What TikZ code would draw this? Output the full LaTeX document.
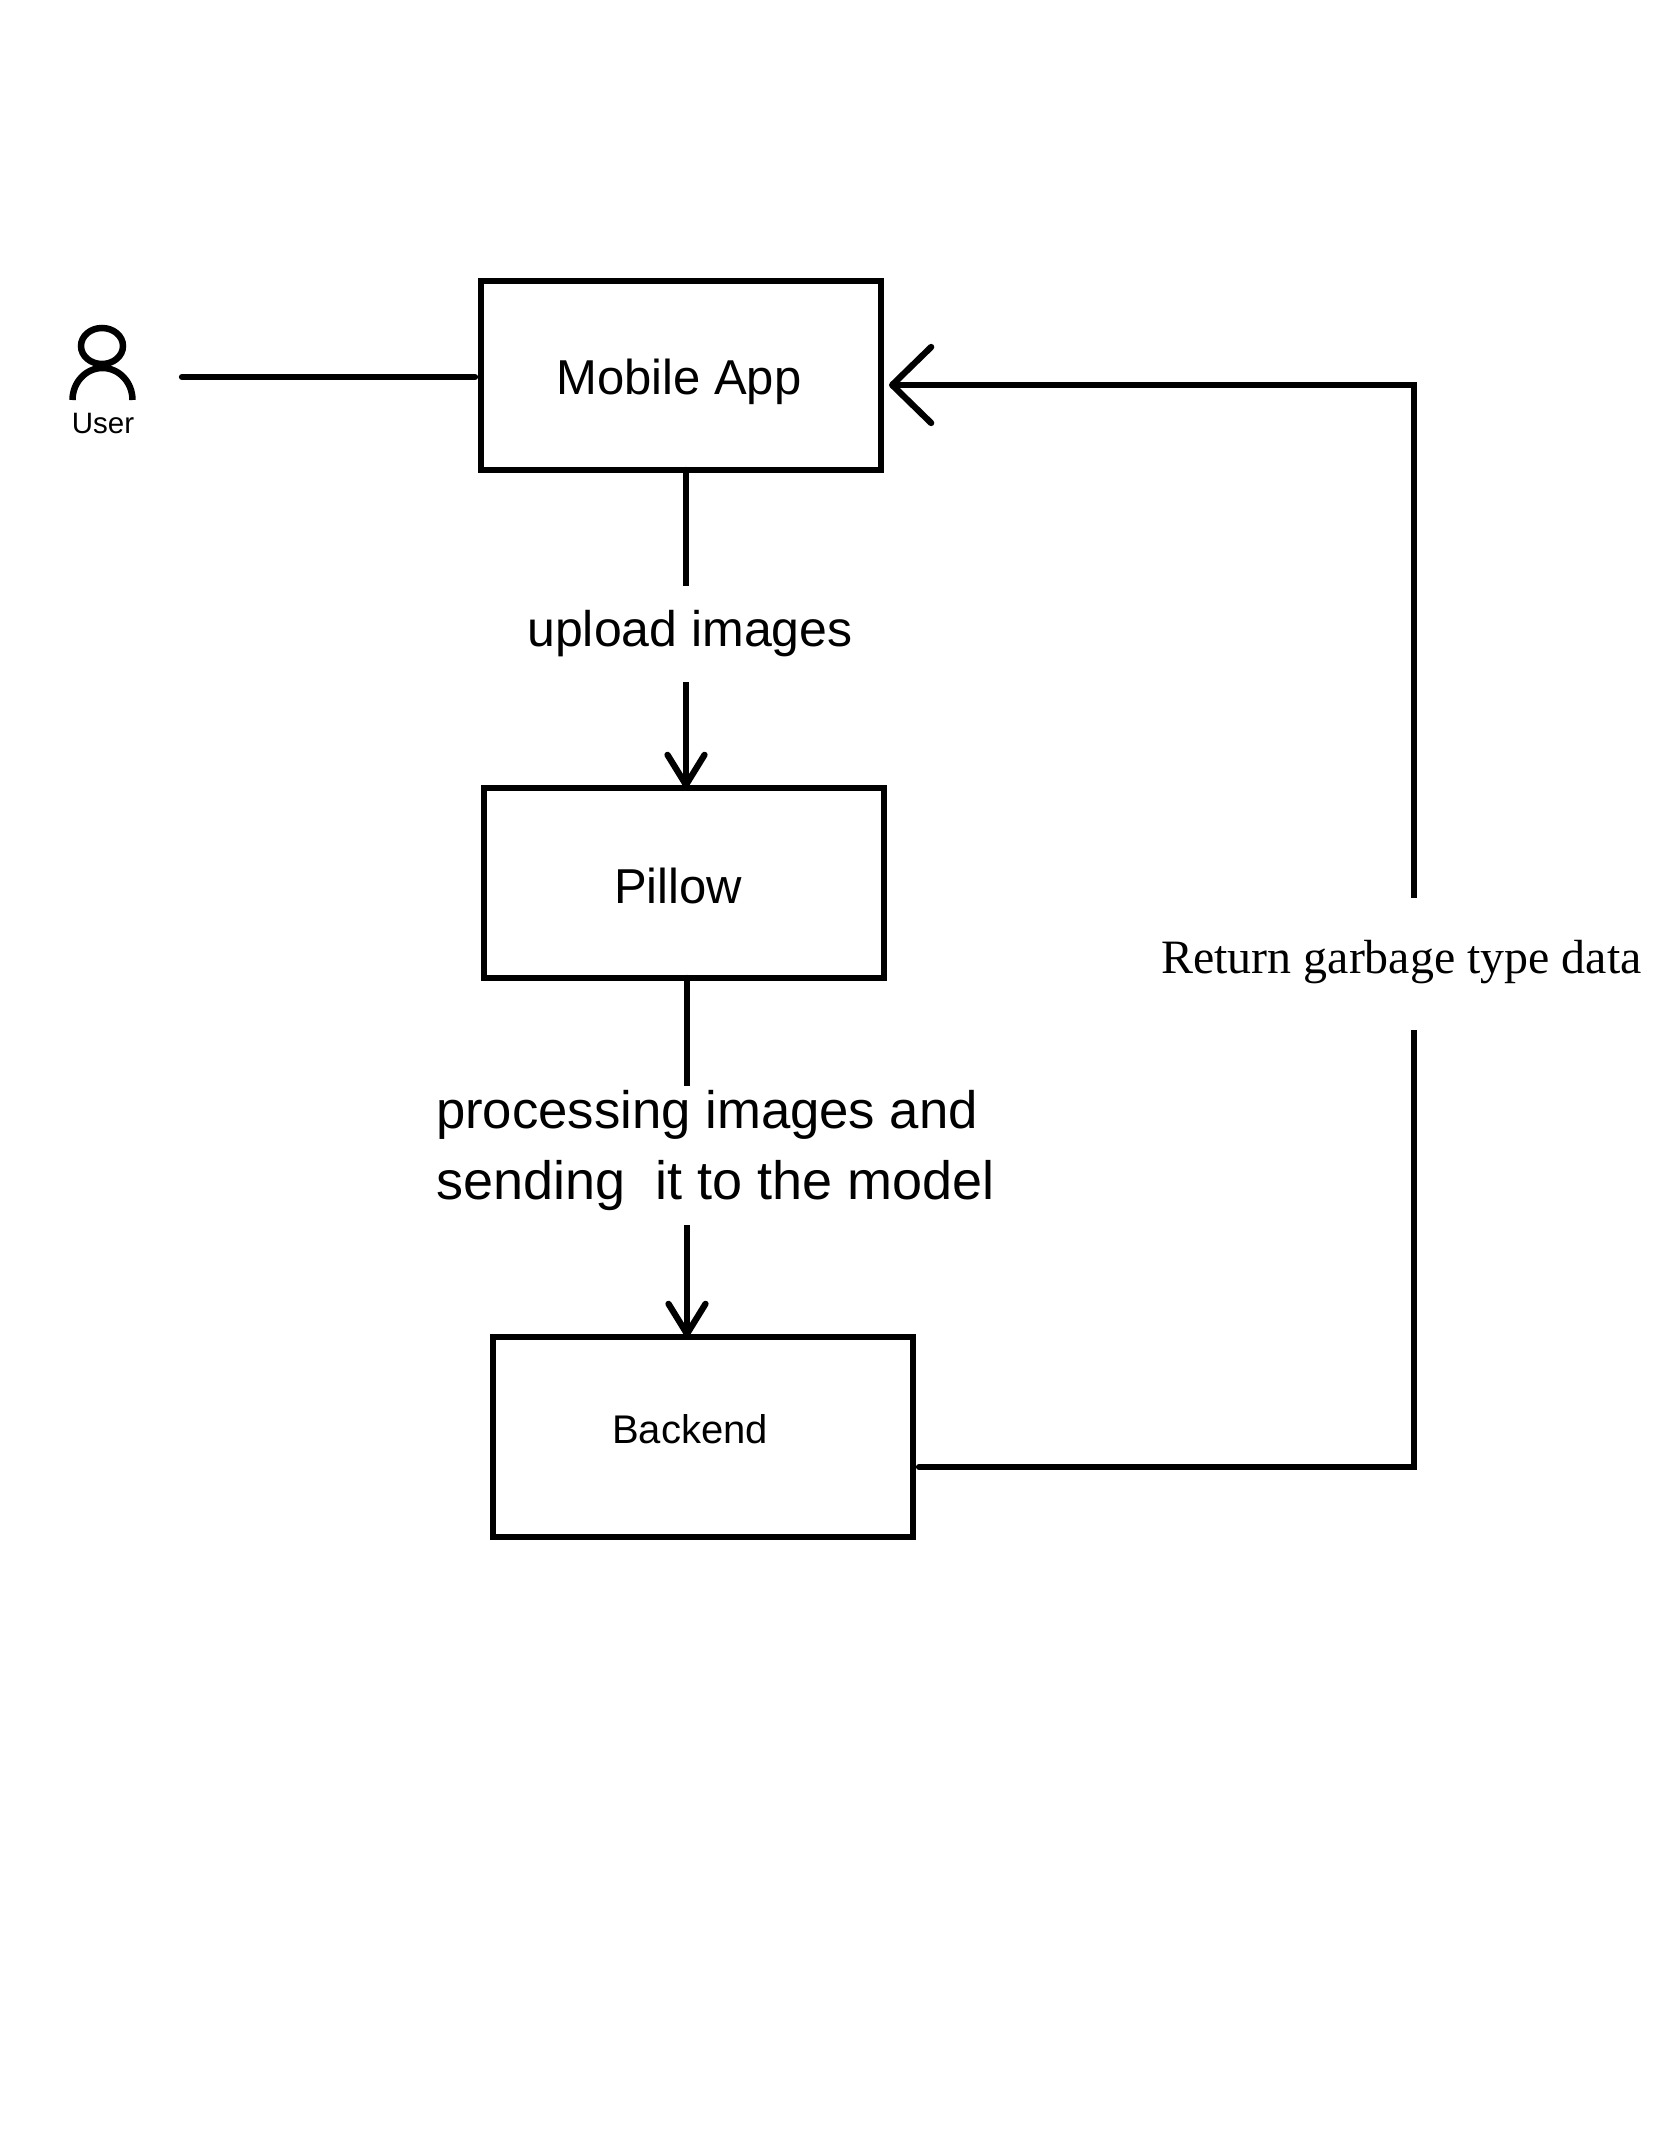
\documentclass[tikz,border=0pt]{standalone}
\usepackage{fontspec}
\setmainfont{Liberation Sans}
\newfontfamily\timesfont{Liberation Serif}
\usetikzlibrary{arrows.meta}
\tikzset{
  x=1pt,y=-1pt,
  procbox/.style={draw=black,line width=6.5pt,outer sep=0pt,inner sep=0pt,fill=none},
  flow/.style={draw=black,line width=6.3pt,line cap=round,line join=miter},
  smallhead/.style={-{Straight Barb[length=30pt,width=37pt,round]}},
  bighead/.style={-{Straight Barb[length=39pt,width=76pt,round]}},
  bigtext/.style={font=\fontsize{49}{71}\selectfont,inner sep=0pt,outer sep=0pt,text=black},
  gaplabel/.style={bigtext,fill=white},
}
\begin{document}
\begin{tikzpicture}
\useasboundingbox[fill=white] (0,0) rectangle (1668,2154);
% boxes
\node[procbox,minimum width=400pt,minimum height=189pt] (mobile) at (681,375.5) {};
\node[procbox,minimum width=400pt,minimum height=190pt] (pillow) at (684,883) {};
\node[procbox,minimum width=420pt,minimum height=200pt] (backend) at (703,1437) {};
% box labels
\node[bigtext] (mobilelabel) at (679,381.5) {Mobile App};
\node[bigtext] (pillowlabel) at (678,886) {Pillow};
\node[font=\fontsize{40}{48}\selectfont,inner sep=0pt] (backendlabel) at (690,1429) {Backend};
% user icon
\draw[line width=6.5pt] (102,346) ellipse [x radius=21,y radius=18];
\draw[line width=6.5pt] (72.5,400) arc [start angle=180,end angle=360,x radius=30,y radius=32];
\node[font=\fontsize{29.5}{35}\selectfont,inner sep=0pt] (user) at (103,423) {User};
\coordinate (userout) at (182,377);
\draw[flow] (userout) -- (userout -| mobile.west) [shorten >=6pt];
% mobile to pillow
\draw[flow,smallhead] ([xshift=5pt]mobile.south) -- ([xshift=5pt]mobile.south |- pillow.north);
\node[gaplabel,font=\fontsize{50}{71}\selectfont,minimum height=96pt,minimum width=330pt] (upload) at (690,634) {upload images};
% pillow to backend
\draw[flow,smallhead] ([xshift=3pt]pillow.south) -- ([xshift=3pt]pillow.south |- backend.north);
\node[gaplabel,font=\fontsize{52.7}{71}\selectfont,align=left,anchor=west,minimum height=139pt] (processing) at (436,1155.5) {processing images and\\\fontsize{54}{71}\selectfont sending\ \ it to the model\rule[-22pt]{0pt}{22pt}};
% backend to mobile
\coordinate (returncorner) at (1414,1467);
\draw[flow,bighead,shorten >=8pt,shorten <=6pt] (backend.east |- returncorner) -- (returncorner) -- (returncorner |- 0,385) -- (mobile.east |- 0,385);
\node[font=\fontsize{47.9}{57}\timesfont\selectfont,fill=white,inner sep=0pt,minimum height=132pt] (returnlabel) at (1401.5,964) {Return garbage type data\rule[-14pt]{0pt}{14pt}};
\end{tikzpicture}
\end{document}
